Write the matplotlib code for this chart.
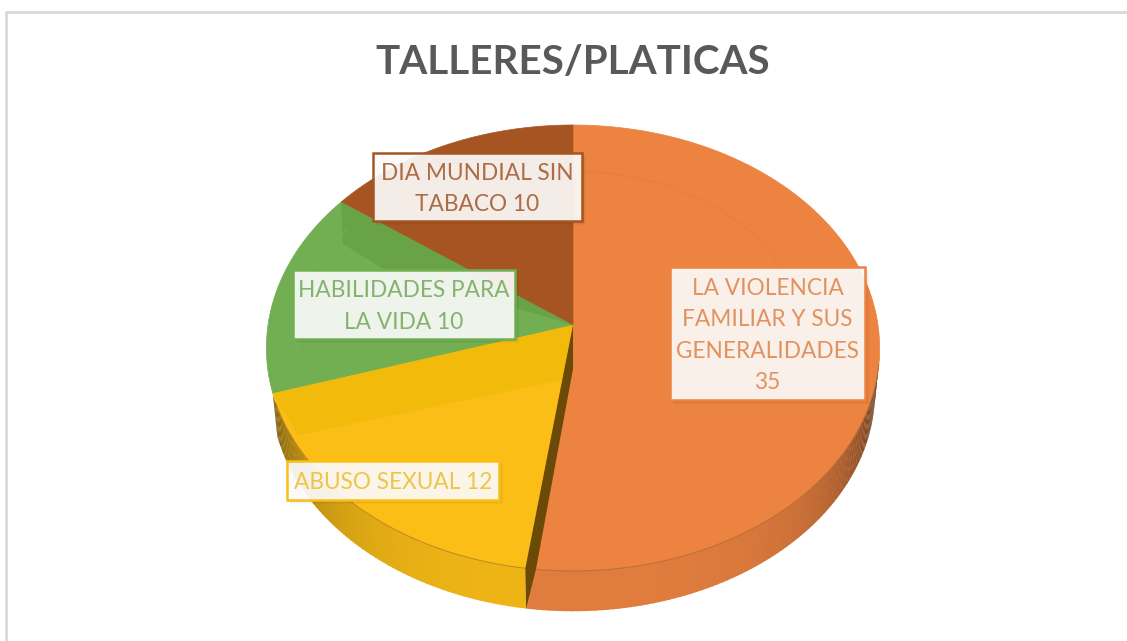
import numpy as np
import matplotlib
matplotlib.use("Agg")
import matplotlib.pyplot as plt
from matplotlib.patches import Polygon, Rectangle

plt.rcParams['font.family'] = ['Lato', 'DejaVu Sans']

# Datos de la grafica
categorias = ["LA VIOLENCIA\nFAMILIAR Y SUS\nGENERALIDADES\n35", "ABUSO SEXUAL 12",
              "HABILIDADES PARA\nLA VIDA 10", "DIA MUNDIAL SIN\nTABACO 10"]
valores = [35, 12, 10, 10]
colores = ["#EC8341", "#FBBE17", "#72AF52", "#A65522"]
colores_texto = ["#E3915F", "#EDC54A", "#85B26E", "#AD6B47"]
titulo = "TALLERES/PLATICAS"

# Perspectiva del pastel (centro en pixeles de la imagen)
CX, CY = 573, 325
RX, RY, K = 305, 220.6, 0.103
GROSOR = 44


def proyectar(angulo, r=1.0, bajo=False):
    # angulo en grados, horario desde las 12
    a = np.radians(angulo)
    x = r * np.sin(a)
    y = r * np.cos(a)
    w = 1 + K * y
    esc = 0.985 if bajo else 1.0
    px = CX + esc * RX * x / w
    py = CY - esc * RY * y / w + (GROSOR if bajo else 0)
    return np.column_stack([px, py])


def oscurecer(color, f):
    rgb = np.array(matplotlib.colors.to_rgb(color))
    return tuple(rgb * f)


def sombra_lado(ang):
    # mas oscuro hacia los extremos del lado visible
    d = abs(ang - 180)
    return float(np.clip(0.95 - (d / 78) ** 3 * 0.55, 0.35, 0.95))


fig = plt.figure(figsize=(11.27, 6.41), dpi=100)
ax = fig.add_axes([0, 0, 1, 1])
ax.set_xlim(0, 1127)
ax.set_ylim(641, 0)
ax.axis('off')

# marco del area de la grafica
ax.plot([6, 6, 1127], [641, 12, 12], color="#D9D9D9", lw=2, solid_joinstyle='round')

acum = np.cumsum([0] + valores) / sum(valores) * 360
inicio = acum[:-1]
fin = acum[1:]

# Lados del pastel
for a0, a1, c in zip(inicio, fin, colores):
    pasos = np.arange(a0, a1, 1.0)
    for p in pasos:
        q1 = min(p + 1.2, a1)
        if p < 97 or p >= fin[1]:
            continue
        top = proyectar(np.array([p, q1]))
        bot = proyectar(np.array([q1, p]), bajo=True)
        ax.add_patch(Polygon(np.vstack([top, bot]), closed=True, lw=0,
                             fc=oscurecer(c, sombra_lado(p + 0.5)), zorder=2))

# Cara superior
for a0, a1, c in zip(inicio, fin, colores):
    arco = proyectar(np.linspace(a0, a1, 120))
    pts = np.vstack([[CX, CY], arco])
    ax.add_patch(Polygon(pts, closed=True, fc=c, ec=c, lw=0.5, zorder=3))

# Canto del borde frontal
frente = np.linspace(100, 250, 200)
ax.plot(*proyectar(frente).T, color="#8A5A20", lw=0.7, alpha=0.55, zorder=4)

# Biseles: banda amarilla y banda verde mas oscuras
banda_am = [proyectar(fin[1], 0.0), proyectar(fin[1], 1.0), proyectar(241, 0.98),
            proyectar(fin[0], 0.245)]
ax.add_patch(Polygon(np.vstack(banda_am), closed=True, lw=0, fc="#F2BB0C", zorder=4))
banda_ve = [proyectar(fin[2], 0.0), proyectar(fin[2], 1.0), proyectar(296, 0.874),
            proyectar(292.4, 0.696), proyectar(fin[1], 0.0)]
ax.add_patch(Polygon(np.vstack(banda_ve), closed=True, lw=0, fc="#68A348", zorder=4))

# Aro tenue del bisel
ax.plot(*proyectar(np.linspace(0, 80, 80), 0.75).T, color="#E07A38", lw=0.8, alpha=0.5, zorder=4)
ax.plot(*proyectar(np.linspace(262, 300, 40), 0.9).T, color="#7DB75E", lw=0.8, alpha=0.5, zorder=4)

# Corte oscuro entre naranja y amarillo
corte = np.vstack([proyectar(fin[0], 0.0), proyectar(fin[0], 1.0),
                   proyectar(fin[0], 1.0, bajo=True), proyectar(fin[0] - 1.8, 1.0),
                   proyectar(fin[0], 0.0, bajo=True)])
ax.add_patch(Polygon(corte, closed=True, lw=0, fc="#6B4A08", zorder=5))

# Etiquetas
cajas = [(670, 267, 195, 133), (287, 461, 212, 39), (293, 270, 222, 69), (373, 153, 209, 68)]
for nombre, caja, c, ct in zip(categorias, cajas, colores, colores_texto):
    x, y, w, h = caja
    for i in range(1, 6):
        ax.add_patch(Rectangle((x + i * 0.8, y + i * 0.8), w, h, fc="#000000", alpha=0.03,
                               lw=0, zorder=6))
    ax.add_patch(Rectangle((x, y), w, h, fc="#FFFFFF", alpha=0.9, lw=0, zorder=7))
    ax.add_patch(Rectangle((x, y), w, h, fc="none", ec=c, lw=1.8, zorder=7))
    ax.text(x + w / 2, y + h / 2 + 2, nombre, ha='center', va='center', color=ct,
            fontsize=16.3, linespacing=1.6, zorder=8)

ax.text(573, 63, titulo, ha='center', va='center', color="#595959",
        fontsize=29.1, fontweight='bold')

fig.savefig("out.png", dpi=100)
